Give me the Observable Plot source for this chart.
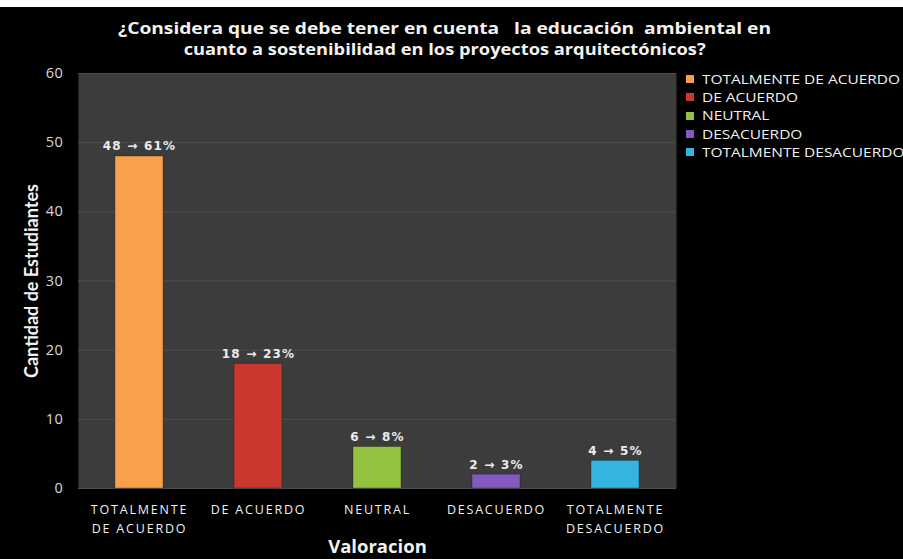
<!DOCTYPE html>
<html>
<head>
<meta charset="utf-8">
<script src="https://cdn.jsdelivr.net/npm/d3@7"></script>
<script src="https://cdn.jsdelivr.net/npm/@observablehq/plot@0.6"></script>
<style>
  html, body { margin: 0; padding: 0; background: #ffffff; }
  #strip { height: 7px; background: #ffffff; width: 903px; }
  #wrap { position: relative; width: 903px; height: 552px; background: #000000; overflow: hidden; }
  #title { position: absolute; left: 0; top: 10.5px; width: 890px; text-align: center; color: #f2f2f2;
           font-family: "Open Sans", sans-serif; font-weight: 700; font-size: 16px; line-height: 21px; }
  #title .ln { display: inline-block; white-space: pre; transform-origin: center; }
  #legend { position: absolute; left: 686px; top: 63px; font-family: "Open Sans", sans-serif; font-size: 12px; color: #f0f0f0; white-space: nowrap; }
  .item { height: 18.3px; display: flex; align-items: center; }
  .sw { width: 8px; height: 8px; margin-right: 8px; display: inline-block; flex: none; }
  .lt { display: inline-block; transform-origin: left center; }
  #chart { position: absolute; left: 0; top: 0; }
</style>
</head>
<body>
<div id="strip"></div>
<div id="wrap">
  <div id="chart"></div>
  <div id="title"></div>
  <div id="legend"></div>
</div>
<script>
const titleLines = ["¿Considera que se debe tener en cuenta   la educación  ambiental en", "cuanto a sostenibilidad en los proyectos arquitectónicos?"];
const categories = ["TOTALMENTE DE ACUERDO", "DE ACUERDO", "NEUTRAL", "DESACUERDO", "TOTALMENTE DESACUERDO"];
const tickLabels = ["TOTALMENTE\nDE ACUERDO", "DE ACUERDO", "NEUTRAL", "DESACUERDO", "TOTALMENTE\nDESACUERDO"];
const counts = [48, 18, 6, 2, 4];
const percents = [61, 23, 8, 3, 5];
const colors = ["#f9a04b", "#c9372f", "#92c23e", "#8459bf", "#33b5e0"];
const yTicks = [0, 10, 20, 30, 40, 50, 60];
const yLabel = "Cantidad de Estudiantes";
const xLabel = "Valoracion";

const data = categories.map((c, i) => ({cat: c, count: counts[i], pct: percents[i], label: `${counts[i]} → ${percents[i]}%`}));
const tickMap = new Map(categories.map((c, i) => [c, tickLabels[i]]));

// title: horizontally stretched lines like the reference
const titleEl = document.getElementById("title");
const titleSpans = titleLines.map((t, i) => {
  const s = document.createElement("span"); s.className = "ln"; s.textContent = t;
  titleEl.appendChild(s);
  if (i < titleLines.length - 1) titleEl.appendChild(document.createElement("br"));
  return s;
});

const lg = document.getElementById("legend");
const legendSpans = categories.map((c, i) => {
  const d = document.createElement("div"); d.className = "item";
  const s = document.createElement("span"); s.className = "sw"; s.style.background = colors[i];
  const t = document.createElement("span"); t.className = "lt"; t.textContent = c;
  d.appendChild(s); d.appendChild(t); lg.appendChild(d);
  return t;
});

const plot = Plot.plot({
  width: 903,
  height: 552,
  marginLeft: 78,
  marginRight: 227,
  marginTop: 66,
  marginBottom: 71,
  style: {background: "transparent", color: "#e6e6e6", fontFamily: "'Open Sans', sans-serif"},
  x: {domain: categories, paddingInner: 0.6, paddingOuter: 0.3, label: null},
  y: {domain: [0, 60], label: null},
  color: {domain: categories, range: colors},
  marks: [
    Plot.frame({fill: "#3c3c3c", stroke: null}),
    Plot.gridY(yTicks, {stroke: "#4e4e4e", strokeOpacity: 1, strokeWidth: 1}),
    Plot.barY(data, {x: "cat", y: "count", fill: "cat", stroke: "#00000055", strokeWidth: 0.8}),
    Plot.text(data, {x: "cat", y: "count", text: "label", dy: -10, fill: "#ececec", fontWeight: "bold", fontSize: 12, fontFamily: "'DejaVu Sans', sans-serif"}),
    Plot.axisY({ticks: yTicks, tickSize: 0, tickPadding: 15, fontSize: 14.5, fill: "#d8d8d8", label: null}),
    Plot.axisX({tickSize: 0, tickPadding: 12, fontSize: 12.5, fill: "#f0f0f0", lineHeight: 1.52, tickFormat: d => tickMap.get(d), label: null}),
    Plot.text([yLabel], {frameAnchor: "left", textAnchor: "middle", dx: -46, rotate: -90, fontSize: 18, fontWeight: "bold", fill: "#f2f2f2", fontFamily: "Lato, sans-serif"}),
    Plot.text([xLabel], {frameAnchor: "bottom", dy: 64, fontSize: 18.5, fontWeight: "bold", fill: "#f2f2f2", fontFamily: "'Open Sans', sans-serif"})
  ]
});
document.getElementById("chart").appendChild(plot);

// horizontal stretch to match the reference's wide lettering
const svg = d3.select(plot);
const textGroups = svg.selectAll('g[aria-label="text"]').nodes();
if (textGroups[0]) d3.select(textGroups[0]).style("letter-spacing", "1.2px");
svg.selectAll('g[aria-label="x-axis tick label"]').style("letter-spacing", "1.8px");
svg.selectAll('g[aria-label="y-axis tick label"]').style("letter-spacing", "0.6px");

const titleTargets = [653, 522];
titleSpans.forEach((s, i) => {
  const w = s.getBoundingClientRect().width;
  if (w > 0) s.style.transform = `scaleX(${titleTargets[i] / w})`;
});
const legendW = legendSpans[0].getBoundingClientRect().width;
const legendScale = legendW > 0 ? 198 / legendW : 1;
legendSpans.forEach(s => { s.style.transform = `scaleX(${legendScale})`; });
</script>
</body>
</html>
